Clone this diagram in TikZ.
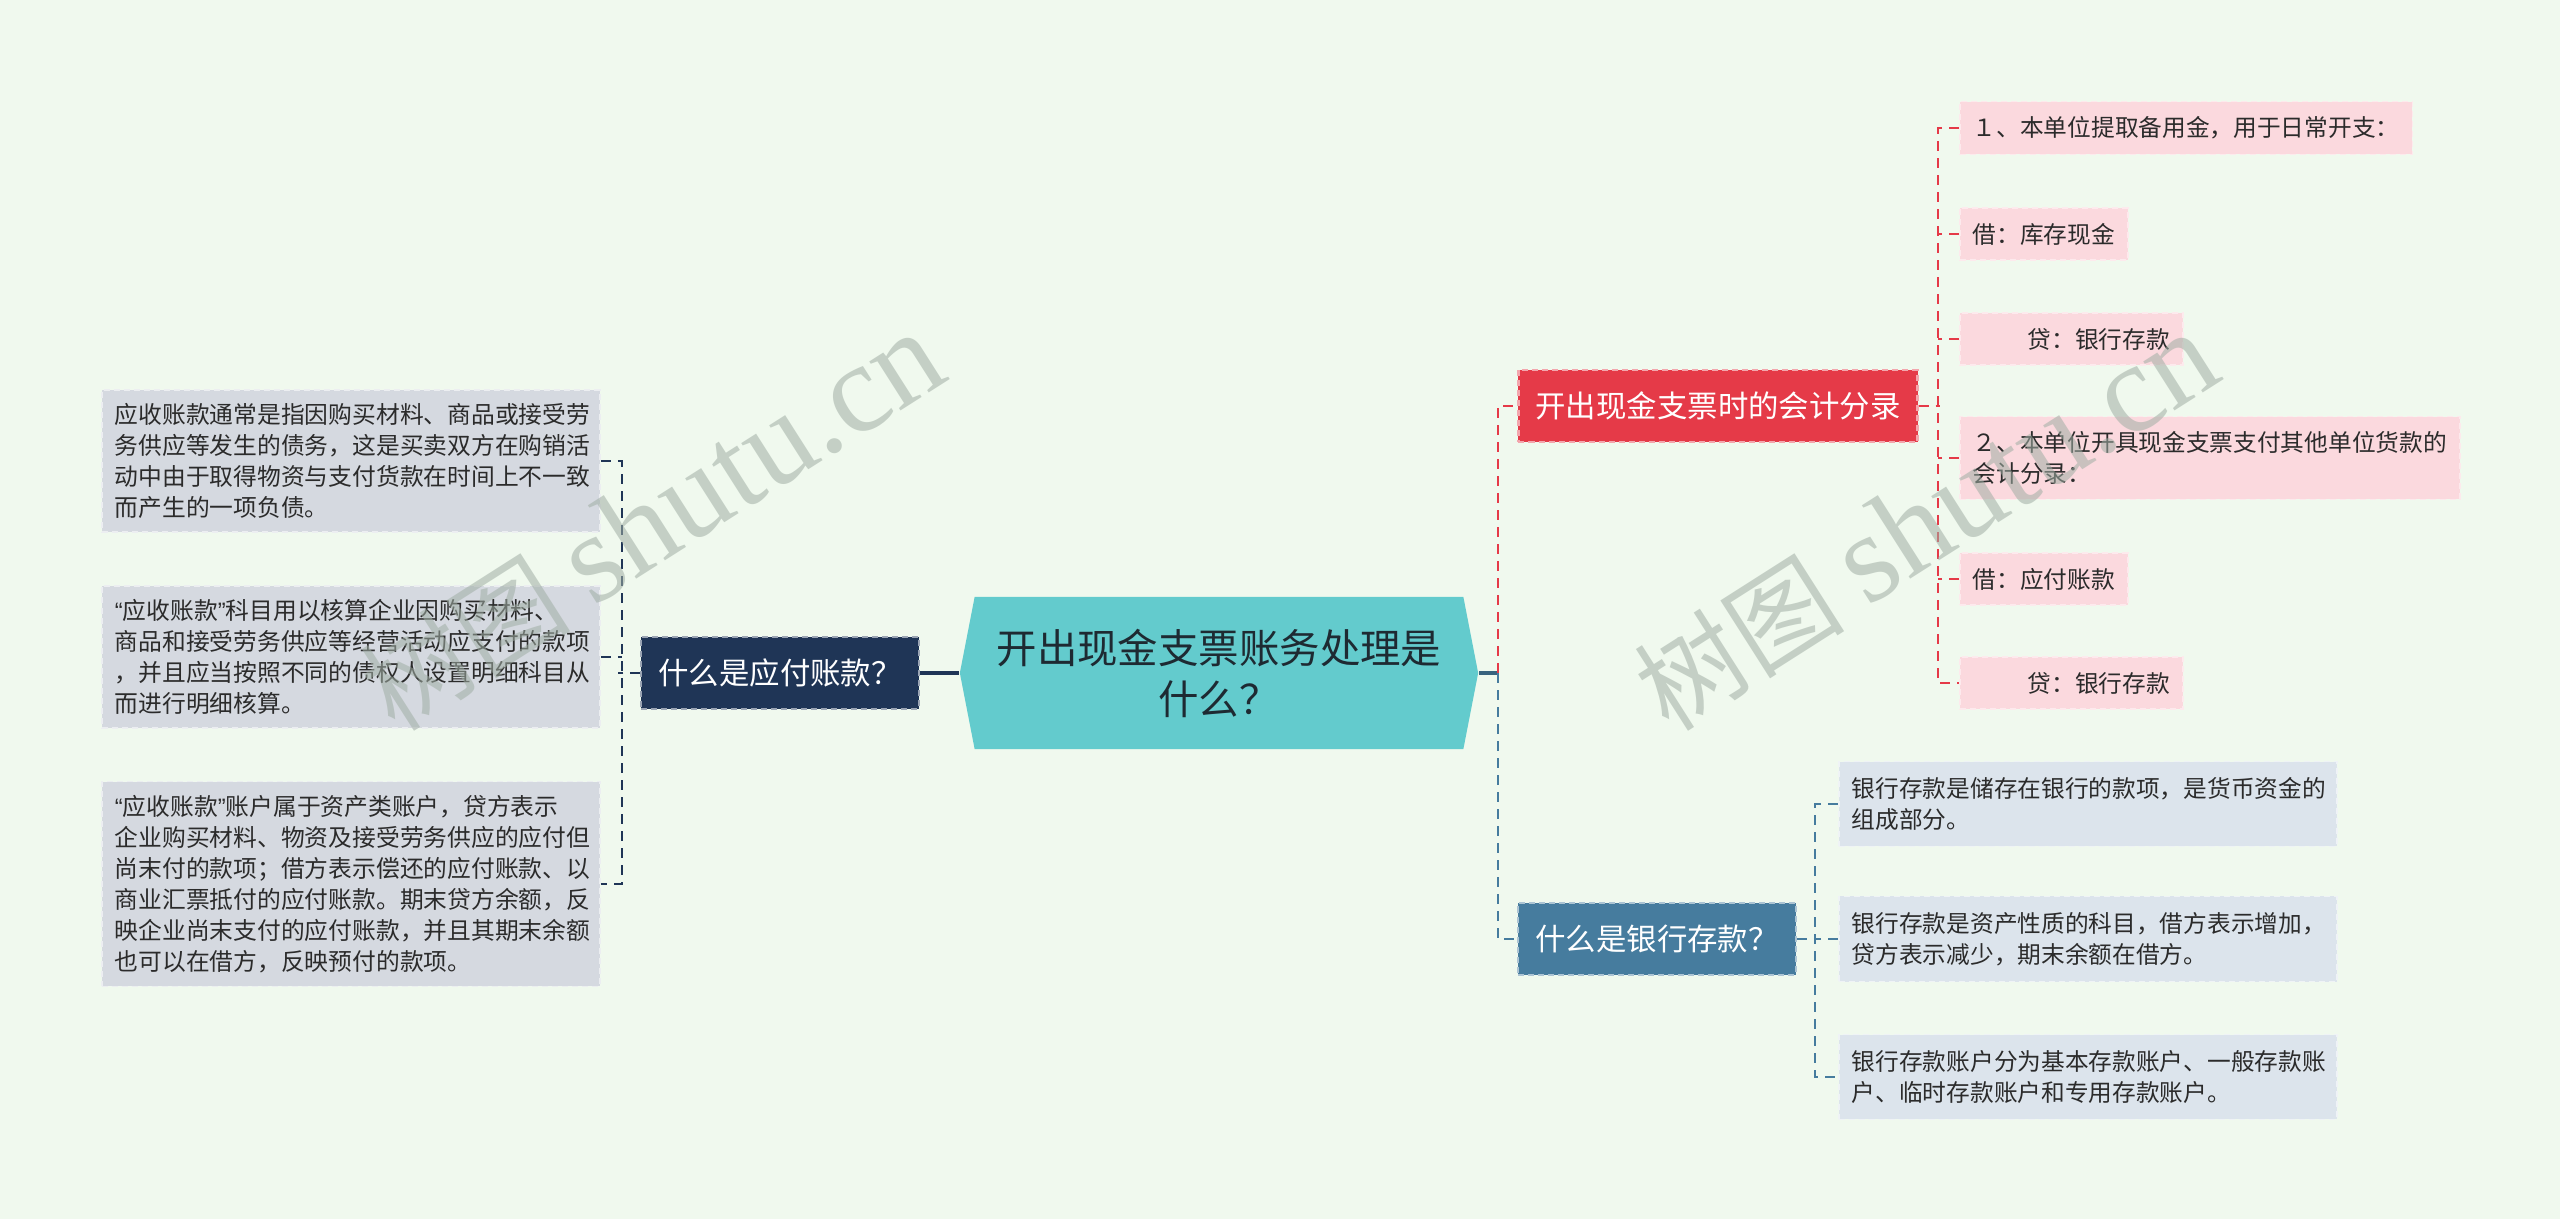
\documentclass[tikz,border=0pt]{standalone}
\usepackage{fontspec}
\setmainfont{Noto Sans CJK SC}
\newfontfamily\wmlatin{Liberation Serif}
\newfontfamily\quotefont{Liberation Sans}
\usepackage{xcolor}
\usepackage{tikz}
\usetikzlibrary{shapes,positioning,calc}
\definecolor{canvasbg}{RGB}{240,249,238}
\definecolor{rootteal}{RGB}{99,203,205}
\definecolor{rootink}{RGB}{30,42,50}
\definecolor{paynavy}{RGB}{31,53,86}
\definecolor{paygray}{RGB}{213,217,224}
\definecolor{cashred}{RGB}{229,58,72}
\definecolor{cashpink}{RGB}{251,217,222}
\definecolor{bankblue}{RGB}{70,124,158}
\definecolor{banklight}{RGB}{220,228,236}
\definecolor{leafink}{RGB}{43,43,43}
\definecolor{wmgray}{RGB}{160,174,164}

\newcommand{\qopen}{{\quotefont “}}
\newcommand{\qclose}{{\quotefont ”}}

\tikzset{
  leafbox/.style={draw, dash pattern=on 0.06cm off 0.04cm, line width=0.45pt,
    anchor=west, align=left, text=leafink, inner xsep=0.13cm},
  payleaf/.style={leafbox, fill=paygray, draw=white!55!paygray, text width=4.72cm,
    inner ysep=0.135cm, font=\fontsize{6.76pt}{8.82pt}\selectfont},
  cashleaf/.style={leafbox, fill=cashpink, draw=white!45!cashpink,
    inner ysep=0.15cm, font=\fontsize{6.74pt}{8.68pt}\selectfont},
  bankleaf/.style={leafbox, fill=banklight, draw=white!55!banklight, text width=4.72cm,
    inner ysep=0.16cm, font=\fontsize{6.74pt}{8.68pt}\selectfont},
  topicbox/.style={draw, dash pattern=on 0.06cm off 0.04cm, line width=0.6pt,
    text=white, inner xsep=0.17cm, minimum height=0.72cm,
    font=\fontsize{8.65pt}{10pt}\selectfont},
  link/.style={line width=0.6pt, dash pattern=on 0.1cm off 0.07cm},
  watermark/.style={rotate=32.5, text=wmgray, opacity=0.55,
    font=\fontsize{30pt}{32pt}\selectfont},
}

\begin{document}
\begin{tikzpicture}[x=0.01cm, y=-0.01cm]
  % Canvas
  \fill[canvasbg] (0,0) rectangle (2560,1219);
  \useasboundingbox (0,0) rectangle (2560,1219);

  % Central topic
  \node[signal, signal to=east and west, signal pointer angle=158, fill=rootteal,
        minimum width=5.18cm, minimum height=1.52cm, text width=4.5cm, align=center,
        text=rootink, font=\fontsize{11.5pt}{14.5pt}\selectfont]
    (root) at (1219,673) {开出现金支票账务处理是\\什么？};

  % Left branch: what is accounts payable
  \node[topicbox, fill=paynavy, draw=paynavy!45!white] (payable) at (780,673) {什么是应付账款？};
  \node[payleaf] (payA) at (101,461) {应收账款通常是指因购买材料、商品或接受劳\\务供应等发生的债务，这是买卖双方在购销活\\动中由于取得物资与支付货款在时间上不一致\\而产生的一项负债。};
  \node[payleaf] (payB) at (101,657) {\qopen 应收账款\qclose 科目用以核算企业因购买材料、\\商品和接受劳务供应等经营活动应支付的款项\\，并且应当按照不同的债权人设置明细科目从\\而进行明细核算。};
  \node[payleaf] (payC) at (101,884) {\qopen 应收账款\qclose 账户属于资产类账户，贷方表示\\企业购买材料、物资及接受劳务供应的应付但\\尚末付的款项；借方表示偿还的应付账款、以\\商业汇票抵付的应付账款。期末贷方余额，反\\映企业尚末支付的应付账款，并且其期末余额\\也可以在借方，反映预付的款项。};

  % Right branch 1: journal entries
  \node[topicbox, fill=cashred, draw=cashred!45!white] (cashentry) at (1718,406) {开出现金支票时的会计分录};
  \node[cashleaf] (cashA) at (1959,128) {１、本单位提取备用金，用于日常开支：};
  \node[cashleaf] (cashB) at (1959,234) {借：库存现金};
  \node[cashleaf] (cashC) at (1959,339) {\hspace*{0.55cm}贷：银行存款};
  \node[cashleaf, text width=4.74cm] (cashD) at (1959,458) {２、本单位开具现金支票支付其他单位货款的\\会计分录：};
  \node[cashleaf] (cashE) at (1959,579) {借：应付账款};
  \node[cashleaf] (cashF) at (1959,683) {\hspace*{0.55cm}贷：银行存款};

  % Right branch 2: bank deposit
  \node[topicbox, fill=bankblue, draw=bankblue!45!white] (bankdef) at (1657,939) {什么是银行存款？};
  \node[bankleaf] (bankA) at (1838,804) {银行存款是储存在银行的款项，是货币资金的\\组成部分。};
  \node[bankleaf] (bankB) at (1838,939) {银行存款是资产性质的科目，借方表示增加，\\贷方表示减少，期末余额在借方。};
  \node[bankleaf] (bankC) at (1838,1077) {银行存款账户分为基本存款账户、一般存款账\\户、临时存款账户和专用存款账户。};

  % Connectors from the root
  \draw[paynavy, line width=1pt] (root.west) -- (payable.east);
  \draw[bankblue!80!black, line width=1pt] (root.east) -- ++(19,0) coordinate (fork);
  \draw[link, cashred] (fork) |- (cashentry.west);
  \draw[link, bankblue] (fork) |- (bankdef.west);

  % Brackets
  \draw[link, paynavy] (payA.east) -- ++(21,0) |- (payC.east);
  \draw[link, paynavy] (payB.east) -- ++(21,0);
  \draw[link, paynavy] (payable.west) -- ++(-22,0);

  \draw[link, cashred] (cashA.west) -- ++(-21,0) |- (cashF.west);
  \foreach \leaf in {cashB,cashC,cashD,cashE}
    \draw[link, cashred] (\leaf.west) -- ++(-21,0);
  \draw[link, cashred] (cashentry.east) -- ++(21,0);

  \draw[link, bankblue] (bankA.west) -- ++(-23,0) |- (bankC.west);
  \draw[link, bankblue] (bankB.west) -- ++(-23,0);
  \draw[link, bankblue] (bankdef.east) -- ++(21,0);

  % Watermarks
  \node[watermark] (markL) at (652,522)
    {树图 {\wmlatin\fontsize{36pt}{38pt}\selectfont shutu.cn}};
  \node[watermark] (markR) at (1926,522)
    {树图 {\wmlatin\fontsize{36pt}{38pt}\selectfont shutu.cn}};
\end{tikzpicture}
\end{document}
